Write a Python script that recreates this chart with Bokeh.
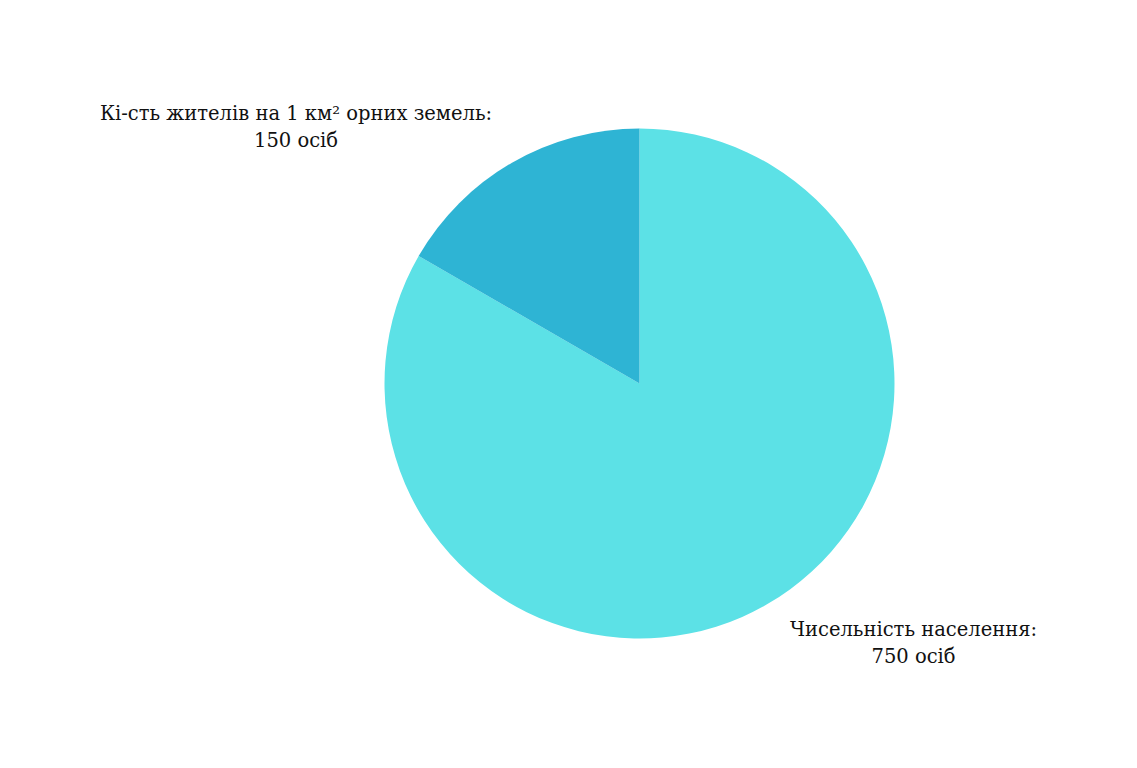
import math
from bokeh.plotting import figure
from bokeh.models import ColumnDataSource
from bokeh.core.properties import value
from bokeh.embed import file_html
from bokeh.resources import INLINE

# Data
categories = ["Чисельність населення:", "Кі-сть жителів на 1 км² орних земель:"]
values = [750, 150]
value_labels = ["750 осіб", "150 осіб"]

# Styles
colors = ["#5CE1E6", "#2EB4D4"]
W, H = 1121, 752
cx, cy, r = 639, H - 383, 255
# label centre (pixel offset from pie centre: dx, dy-up) for the first line
label_offsets = [(274, -246), (-343.5, 270)]
line_gap = 27

p = figure(width=W, height=H, x_range=(0, W), y_range=(0, H),
           output_backend="svg", toolbar_location=None, min_border=0)
p.axis.visible = False
p.grid.visible = False
p.outline_line_color = None
p.background_fill_color = "white"

total = sum(values)
a0 = math.pi / 2
starts, ends = [], []
for v in values:
    sweep = v / total * 2 * math.pi
    starts.append(a0 - sweep)
    ends.append(a0)
    a0 -= sweep

src = ColumnDataSource(dict(start=starts, end=ends, color=colors))
p.wedge(x=cx, y=cy, radius=r, start_angle="start", end_angle="end",
        fill_color="color", line_color=None, source=src)

lx = [cx + dx for dx, dy in label_offsets]
ly = [cy + dy for dx, dy in label_offsets]
ly2 = [y - line_gap for y in ly]
lsrc = ColumnDataSource(dict(x=lx, y=ly, y2=ly2, t1=categories, t2=value_labels))
p.text(x="x", y="y", text="t1", source=lsrc, text_align="center",
       text_baseline="middle", text_font=value("DejaVu Serif"),
       text_font_size="19.5px", text_color="#111111")
p.text(x="x", y="y2", text="t2", source=lsrc, text_align="center",
       text_baseline="middle", text_font=value("DejaVu Serif"),
       text_font_size="19.5px", text_color="#111111")

open("out.html", "w").write(file_html(p, INLINE))
